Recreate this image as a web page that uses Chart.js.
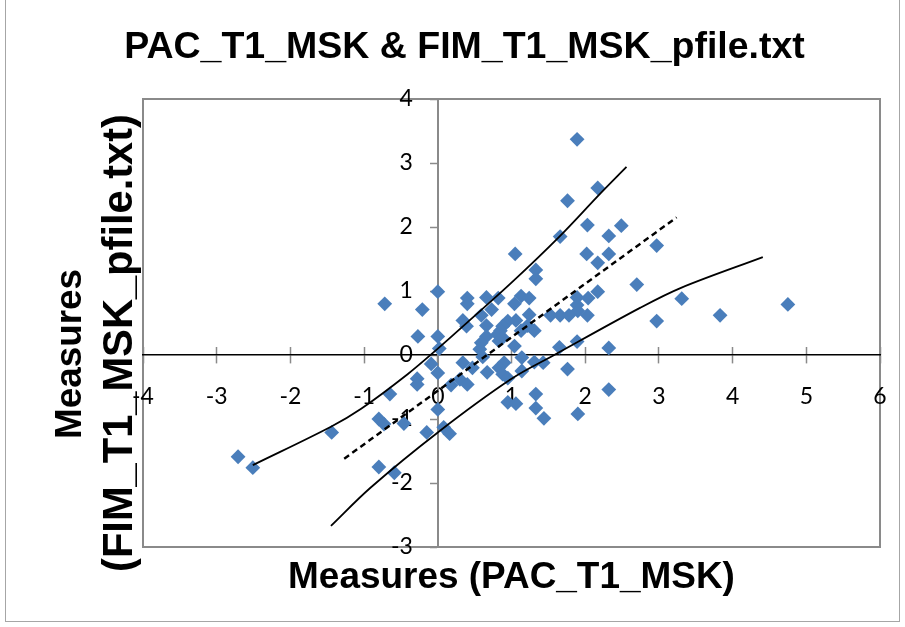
<!DOCTYPE html>
<html><head><meta charset="utf-8">
<script src="https://cdn.jsdelivr.net/npm/chart.js@4.4.1/dist/chart.umd.min.js"></script>
<style>html,body{margin:0;padding:0;background:#fff}#wrap{width:905px;height:627px;position:relative}</style>
</head><body><div id="wrap"><canvas id="c" width="905" height="627"></canvas></div>
<script>
// ---- text ----
const chartTitle = 'PAC_T1_MSK & FIM_T1_MSK_pfile.txt';
const xAxisTitle = 'Measures (PAC_T1_MSK)';
const yAxisTitleLines = ['Measures', '(FIM_T1_MSK_pfile.txt)'];

// ---- ticks ----
const xTickValues = [-4, -3, -2, -1, 0, 1, 2, 3, 4, 5, 6];
const xTickLabels = ['-4', '-3', '-2', '-1', '0', '1', '2', '3', '4', '5', '6'];
const yTickValues = [-3, -2, -1, 0, 1, 2, 3, 4];
const yTickLabels = ['-3', '-2', '-1', '0', '1', '2', '3', '4'];

// ---- data: item measures ----
const pacMeasures = [1.89,2.17,1.76,2.03,2.49,2.32,1.66,2.97,1.05,2.02,
  2.32,2.17,1.33,1.33,2.70,0.00,2.17,3.31,0.40,0.40,
  0.66,0.82,0.73,1.04,1.13,1.24,1.89,2.04,1.89,1.90,
  0.59,1.24,1.53,1.66,1.78,2.03,3.83,4.75,2.97,-0.72,
  -0.21,0.34,0.39,0.66,0.95,1.06,1.22,0.88,0.85,1.13,
  1.31,0.81,-0.27,0.00,0.66,0.88,0.59,0.83,1.04,1.65,
  1.89,2.32,0.02,0.57,0.61,1.14,-0.09,0.34,0.90,1.31,
  1.43,0.47,0.83,0.00,0.67,0.88,1.14,1.76,-0.28,-0.28,
  0.18,0.30,0.40,0.95,-0.65,0.95,1.06,1.33,1.33,1.44,
  1.90,2.32,0.00,-0.80,-0.73,-0.46,-0.15,0.08,0.16,-1.44,
  -2.71,-2.51,-0.80,-0.59];
const fimMeasures = [3.37,2.61,2.41,2.03,2.02,1.86,1.85,1.71,1.58,1.58,
  1.58,1.44,1.33,1.19,1.10,0.99,0.99,0.88,0.89,0.80,
  0.90,0.89,0.71,0.80,0.92,0.89,0.90,0.89,0.78,0.69,
  0.62,0.63,0.62,0.62,0.62,0.62,0.62,0.79,0.53,0.80,
  0.71,0.54,0.45,0.46,0.53,0.54,0.46,0.45,0.38,0.38,
  0.38,0.32,0.29,0.29,0.29,0.27,0.19,0.22,0.14,0.12,
  0.21,0.11,0.10,0.09,-0.03,-0.04,-0.14,-0.12,-0.12,-0.11,
  -0.12,-0.20,-0.20,-0.28,-0.27,-0.30,-0.25,-0.22,-0.37,-0.46,
  -0.47,-0.38,-0.46,-0.36,-0.61,-0.74,-0.76,-0.61,-0.83,-0.99,
  -0.92,-0.54,-0.85,-1.00,-1.08,-1.07,-1.21,-1.13,-1.23,-1.21,
  -1.59,-1.76,-1.75,-1.84];

// ---- control lines ----
const upperX = [-2.51,-1.45,-1.04,-0.41,0.00,0.42,1.00,1.65,2.21,2.56];
const upperY = [-1.72,-1.12,-0.84,-0.30,0.10,0.53,1.13,1.85,2.53,2.94];
const identX = [-1.27, 3.24];
const identY = [-1.62, 2.15];
const lowerX = [-1.45,-0.91,0.00,0.99,1.58,2.75,3.30,4.41];
const lowerY = [-2.67,-2.07,-1.21,-0.38,0.00,0.74,1.05,1.53];

const pairs = (xs, ys) => xs.map((x, i) => ({x, y: ys[i]}));
const labelFrom = (vals, labels) => v => { const i = vals.indexOf(v); return i >= 0 ? labels[i] : ''; };
const noPad = s => { s.paddingLeft = 0; s.paddingRight = 0; s.paddingTop = 0; s.paddingBottom = 0; };

const TICK_FAMILY = 'Lato, "Open Sans", sans-serif';
const TITLE_FAMILY = '"Liberation Sans", Arial, sans-serif';
Chart.defaults.font.family = TICK_FAMILY;
Chart.defaults.color = '#000';

function fitFont(ctx, text, target) {
  ctx.font = 'bold 100px ' + TITLE_FAMILY;
  const w = ctx.measureText(text).width;
  return 100 * target / w;
}

const Y_LABEL_GAP = 25;

const decor = {
  id: 'decor',
  beforeDraw(chart) {
    const {ctx, chartArea: a} = chart;
    // y axis sits at x = 0: keep its tick labels clear of the axis line
    const items = chart.scales.y.getLabelItems();
    if (!items._shifted) {
      items.forEach(it => { it.options.translation[0] -= Y_LABEL_GAP; });
      items._shifted = true;
    }
    ctx.save();
    ctx.fillStyle = '#fff';
    ctx.fillRect(0, 0, chart.width, chart.height);
    ctx.strokeStyle = '#a6a6a6';
    ctx.lineWidth = 1;
    ctx.strokeRect(5.5, -0.5, 894, 622);
    ctx.strokeStyle = '#8a8a8a';
    ctx.lineWidth = 2;
    ctx.strokeRect(a.left, a.top, a.right - a.left, a.bottom - a.top);
    ctx.restore();
  },
  afterDraw(chart) {
    const ctx = chart.ctx;
    ctx.save();
    ctx.fillStyle = '#000';
    ctx.textAlign = 'center';
    ctx.textBaseline = 'middle';
    let s = fitFont(ctx, chartTitle, 681);
    ctx.font = 'bold ' + s + 'px ' + TITLE_FAMILY;
    ctx.fillText(chartTitle, 464.5, 48);
    s = fitFont(ctx, xAxisTitle, 447);
    ctx.font = 'bold ' + s + 'px ' + TITLE_FAMILY;
    ctx.fillText(xAxisTitle, 511.5, 578);
    const ys = [[71, 354, 170], [121, 343, 458]];
    yAxisTitleLines.forEach((t, i) => {
      const [cx, cy, w] = ys[i];
      const fs = fitFont(ctx, t, w);
      ctx.save();
      ctx.translate(cx, cy);
      ctx.rotate(-Math.PI / 2);
      ctx.font = 'bold ' + fs + 'px ' + TITLE_FAMILY;
      ctx.fillText(t, 0, 0);
      ctx.restore();
    });
    ctx.restore();
  }
};

new Chart(document.getElementById('c'), {
  type: 'scatter',
  data: {
    datasets: [
      { label: 'items', data: pairs(pacMeasures, fimMeasures), order: 2,
        pointStyle: 'rectRot', pointRadius: 7.4, backgroundColor: '#4a7ebb', borderColor: '#4a7ebb', borderWidth: 0 },
      { label: 'upper', data: pairs(upperX, upperY), order: 1, showLine: true, pointRadius: 0,
        borderColor: '#000', borderWidth: 1.8, tension: 0.35, fill: false },
      { label: 'identity', data: pairs(identX, identY), order: 1, showLine: true, pointRadius: 0,
        borderColor: '#000', borderWidth: 2.4, borderDash: [6, 4], fill: false },
      { label: 'lower', data: pairs(lowerX, lowerY), order: 1, showLine: true, pointRadius: 0,
        borderColor: '#000', borderWidth: 1.8, tension: 0.35, fill: false }
    ]
  },
  options: {
    responsive: false,
    animation: false,
    events: [],
    layout: { padding: { left: 143, top: 99, right: 25, bottom: 80 } },
    plugins: { legend: { display: false }, title: { display: false }, tooltip: { enabled: false } },
    scales: {
      x: {
        type: 'linear', min: -4, max: 6, position: { y: 0 }, afterFit: noPad,
        ticks: { stepSize: 1, autoSkip: false, maxRotation: 0, padding: 20, font: { size: 23 }, color: '#000',
                 callback: labelFrom(xTickValues, xTickLabels) },
        grid: { display: true, drawOnChartArea: false, drawTicks: true, tickLength: 8, tickColor: '#8a8a8a', tickWidth: 1.5 },
        border: { display: true, color: '#000', width: 1.4 }
      },
      xt: {
        axis: 'x', type: 'linear', min: -4, max: 6, position: { y: 0 }, afterFit: noPad,
        ticks: { stepSize: 1, display: false },
        grid: { display: true, drawOnChartArea: false, drawTicks: true, tickLength: -8, tickColor: '#8a8a8a', tickWidth: 1.5 },
        border: { display: false }
      },
      y: {
        type: 'linear', min: -3, max: 4, position: { x: 0 }, afterFit: noPad,
        ticks: { stepSize: 1, autoSkip: false, padding: 18, font: { size: 23 }, color: '#000',
                 callback: labelFrom(yTickValues, yTickLabels) },
        grid: { display: true, drawOnChartArea: false, drawTicks: true, tickLength: 7, tickColor: '#8a8a8a', tickWidth: 1.5 },
        border: { display: true, color: '#8a8a8a', width: 2 }
      }
    }
  },
  plugins: [decor]
});
</script>
</body></html>
